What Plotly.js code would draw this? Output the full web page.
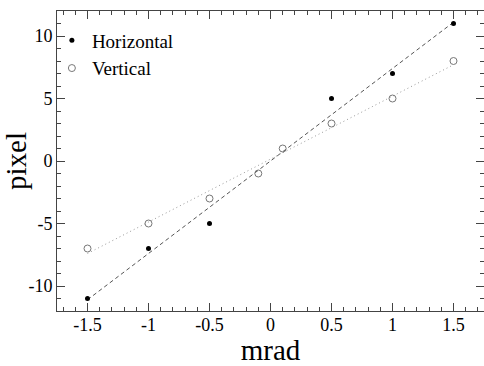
<!DOCTYPE html>
<html>
<head>
<meta charset="utf-8">
<script src="https://cdn.plot.ly/plotly-3.0.1.min.js"></script>
<style>html,body{margin:0;padding:0;background:#fff;}#chart{width:484px;height:366px;}</style>
</head>
<body>
<div id="chart"></div>
<script>
// Data
const horizX = [-1.5, -1, -0.5, 0.5, 1, 1.5];
const horizY = [-11, -7, -5, 5, 7, 11];
const vertX = [-1.5, -1, -0.5, -0.1, 0.1, 0.5, 1, 1.5];
const vertY = [-7, -5, -3, -1, 1, 3, 5, 8];
// Fit lines (end points)
const fitX = [-1.5, 1.5];
const fitHorizY = [-11.1, 11.1];
const fitVertY = [-7.4, 7.7];
// Tick labels
const xTickVals = [-1.5, -1, -0.5, 0, 0.5, 1, 1.5];
const xTickText = ['-1.5', '-1', '-0.5', '0', '0.5', '1', '1.5'];
const yTickVals = [-10, -5, 0, 5, 10];
const yTickText = ['-10', '-5', '0', '5', '10'];

const serif = 'Liberation Serif';
const axisColor = '#444';

const traces = [
  {x: fitX, y: fitHorizY, mode: 'lines', showlegend: false, hoverinfo: 'skip',
   line: {color: '#555', width: 1, dash: '4px,3px'}},
  {x: fitX, y: fitVertY, mode: 'lines', showlegend: false, hoverinfo: 'skip',
   line: {color: '#999', width: 1, dash: '1px,3px'}},
  {x: horizX, y: horizY, mode: 'markers', name: 'Horizontal', legendgroup: 'h',
   marker: {symbol: 'circle', size: 5, color: '#000'}},
  {x: vertX, y: vertY, mode: 'markers', name: 'Vertical', legendgroup: 'v',
   marker: {symbol: 'circle-open', size: 7, color: '#777', line: {width: 1, color: '#777'}}}
];

function axisBase() {
  return {
    showgrid: false, zeroline: false, showline: true, linecolor: axisColor, linewidth: 1,
    mirror: 'allticks', ticks: 'inside', ticklen: 8, tickcolor: axisColor, tickwidth: 1,
    tickfont: {family: serif, size: 18, color: '#000'}, tickmode: 'array'
  };
}

const xaxis = Object.assign(axisBase(), {
  range: [-1.75, 1.75], tickvals: xTickVals, ticktext: xTickText, ticklabelstandoff: -3,
  minor: {dtick: 0.1, tick0: 0, ticks: 'inside', ticklen: 4, tickcolor: axisColor, tickwidth: 1},
  title: {text: 'mrad', font: {family: serif, size: 29, color: '#000'}, standoff: 4}
});
const yaxis = Object.assign(axisBase(), {
  range: [-12, 12], tickvals: yTickVals, ticktext: yTickText,
  minor: {dtick: 1, tick0: 0, ticks: 'inside', ticklen: 4, tickcolor: axisColor, tickwidth: 1},
  title: {text: 'pixel', font: {family: serif, size: 29, color: '#000'}, standoff: 0}
});

const layout = {
  width: 484, height: 366,
  font: {family: serif, size: 18, color: '#000'},
  margin: {l: 57, r: 0, t: 11, b: 55},
  paper_bgcolor: '#fff', plot_bgcolor: '#fff',
  xaxis: xaxis, yaxis: yaxis,
  showlegend: true,
  legend: {x: -0.012, y: 0.965, xanchor: 'left', yanchor: 'top', bgcolor: 'rgba(0,0,0,0)',
    borderwidth: 0, font: {family: serif, size: 19, color: '#000'},
    traceorder: 'grouped', tracegroupgap: 0, itemwidth: 30}
};

Plotly.newPlot('chart', traces, layout, {staticPlot: true, displayModeBar: false});
</script>
</body>
</html>
